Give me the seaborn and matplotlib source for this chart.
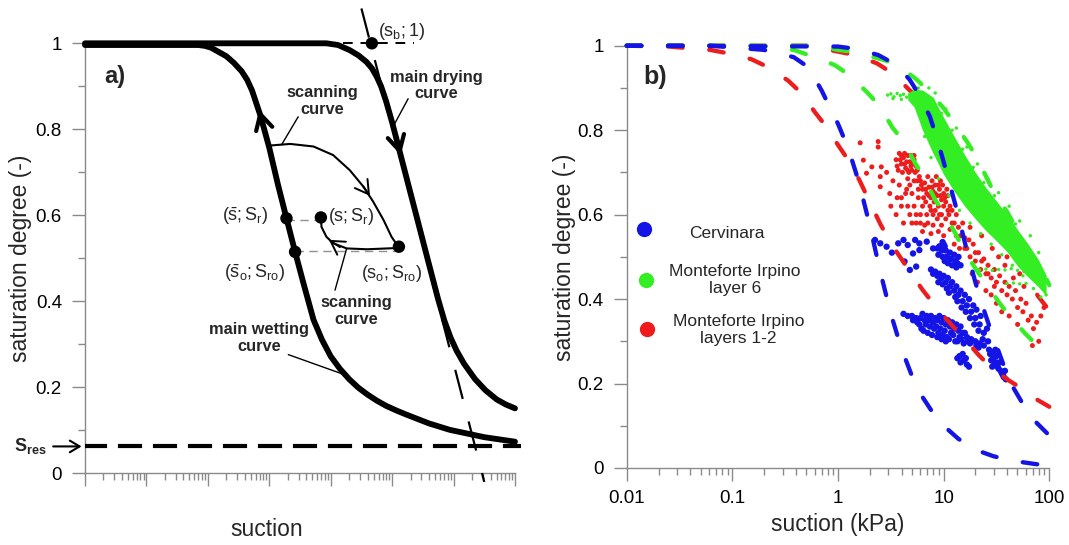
import numpy as np
import matplotlib
matplotlib.use("Agg")
import matplotlib.pyplot as plt
from matplotlib.ticker import LogLocator, NullFormatter
import seaborn as sns

sns.set_theme(style="ticks")
plt.rcParams["font.family"] = ["Liberation Sans", "DejaVu Sans"]
plt.rcParams["mathtext.fontset"] = "custom"
plt.rcParams["mathtext.rm"] = "Liberation Sans"
plt.rcParams["mathtext.it"] = "Liberation Sans"
plt.rcParams["mathtext.bf"] = "Liberation Sans:bold"

# ---------------- panel a (log10 of suction, arbitrary units) ----------------
a_dry_log = [0.0, 3.93, 4.12, 4.31, 4.45, 4.58, 4.67, 4.75, 4.82, 4.90, 5.00, 5.20, 5.40,
             5.60, 5.75, 5.85, 5.95, 6.05, 6.17, 6.35, 6.52, 6.70, 6.85, 7.00]
a_dry_S = [1.0, 1.0, 0.996, 0.984, 0.972, 0.957, 0.942, 0.922, 0.90, 0.866, 0.816, 0.706,
           0.596, 0.486, 0.404, 0.355, 0.316, 0.285, 0.255, 0.219, 0.193, 0.172, 0.16, 0.151]
a_wet_log = [0.0, 1.85, 1.95, 2.05, 2.30, 2.42, 2.55, 2.64, 2.72, 2.86, 3.00, 3.14, 3.28,
             3.42, 3.56, 3.72, 3.86, 4.00, 4.15, 4.30, 4.45, 4.60, 4.75, 4.90, 5.07, 5.24,
             5.60, 5.94, 6.50, 7.00]
a_wet_S = [0.996, 0.996, 0.994, 0.99, 0.97, 0.955, 0.935, 0.915, 0.89, 0.83, 0.757, 0.672,
           0.593, 0.515, 0.44, 0.357, 0.31, 0.272, 0.243, 0.219, 0.199, 0.183, 0.169, 0.157,
           0.146, 0.136, 0.116, 0.101, 0.084, 0.0735]
scan1_log = [2.99, 3.34, 3.72, 4.04, 4.31, 4.53, 4.69, 4.86, 4.99, 5.10]
scan1_S = [0.762, 0.766, 0.760, 0.740, 0.705, 0.667, 0.632, 0.589, 0.550, 0.527]
scan2_log = [5.10, 4.59, 4.26, 4.04, 3.93, 3.85, 3.84]
scan2_S = [0.524, 0.521, 0.523, 0.535, 0.550, 0.573, 0.595]
tangent_log = [4.50, 6.50]
tangent_S = [1.081, -0.02]
s_res = 0.0625
a_dot_log = [4.67, 3.84, 3.28, 3.42, 5.11]
a_dot_S = [1.0, 0.595, 0.593, 0.515, 0.527]

# ---------------- panel b (log10 of suction in kPa) ----------------
b_blue_dry_log = [-2.0, 0.0, 0.18, 0.38, 0.55, 0.68, 0.77, 0.87, 0.93, 1.0, 1.06, 1.12, 1.18,
                  1.24, 1.30, 1.36, 1.42, 1.50, 1.58, 1.66, 1.77, 1.88, 2.0]
b_blue_dry_S = [1.0, 0.998, 0.992, 0.978, 0.955, 0.919, 0.883, 0.832, 0.785, 0.725, 0.67, 0.615,
                0.555, 0.495, 0.44, 0.39, 0.345, 0.29, 0.235, 0.19, 0.143, 0.107, 0.077]
b_blue_wet_log = [-2.0, -1.2, -0.7, -0.42, -0.28, -0.155, -0.077, 0.0, 0.1, 0.2, 0.3, 0.4,
                  0.5, 0.6, 0.7, 0.8, 0.9, 1.0, 1.14, 1.28, 1.47, 1.63, 1.85, 2.0]
b_blue_wet_S = [1.0, 1.0, 0.99, 0.973, 0.949, 0.894, 0.854, 0.815, 0.755, 0.675, 0.575, 0.465,
                0.365, 0.283, 0.218, 0.168, 0.13, 0.10, 0.069, 0.045, 0.028, 0.018, 0.010, 0.005]
b_red_wet_log = [-2.0, -1.6, -1.21, -1.04, -0.82, -0.66, -0.47, -0.34, -0.22, -0.11, 0.0, 0.1,
                 0.2, 0.3, 0.4, 0.5, 0.6, 0.7, 0.8, 0.9, 1.0, 1.1, 1.2, 1.33, 1.44, 1.6, 1.74,
                 1.89, 2.0]
b_red_wet_S = [1.0, 0.998, 0.99, 0.982, 0.968, 0.949, 0.917, 0.886, 0.843, 0.808, 0.765, 0.728,
               0.683, 0.63, 0.578, 0.532, 0.495, 0.458, 0.422, 0.39, 0.36, 0.332, 0.305, 0.268,
               0.24, 0.21, 0.188, 0.161, 0.145]
b_red_dry_log = [-2.0, -0.3, 0.0, 0.16, 0.37, 0.52, 0.68, 0.74, 0.85, 1.0, 1.15, 1.3, 1.45,
                 1.6, 1.75, 1.89, 2.0]
b_red_dry_S = [1.0, 1.0, 0.986, 0.978, 0.958, 0.934, 0.894, 0.882, 0.85, 0.80, 0.74, 0.68,
               0.615, 0.55, 0.475, 0.408, 0.373]
b_green_dry_log = [-2.0, -0.2, 0.0, 0.16, 0.38, 0.54, 0.73, 0.85, 1.0, 1.09, 1.22, 1.31, 1.41,
                   1.48, 1.6, 1.67, 1.78, 1.86, 1.97, 2.0]
b_green_dry_S = [1.0, 1.0, 0.99, 0.985, 0.97, 0.958, 0.923, 0.895, 0.852, 0.82, 0.773, 0.737,
                 0.686, 0.65, 0.607, 0.575, 0.524, 0.497, 0.449, 0.433]
b_green_wet_log = [-2.0, -0.8, -0.42, -0.23, -0.03, 0.11, 0.27, 0.4, 0.51, 0.62, 0.73, 0.81,
                   0.92, 1.01, 1.11, 1.19, 1.31, 1.40, 1.53, 1.63, 1.77, 1.88, 1.95]
b_green_wet_S = [1.0, 1.0, 0.99, 0.974, 0.954, 0.93, 0.891, 0.856, 0.808, 0.773, 0.722, 0.69,
                 0.635, 0.60, 0.556, 0.516, 0.469, 0.437, 0.39, 0.358, 0.319, 0.291, 0.275]

# Monteforte Irpino layer 6: dense band envelope + scattered points
g_band_log = [0.66, 0.72, 0.80, 0.90, 1.00, 1.10, 1.20, 1.30, 1.40, 1.50, 1.60, 1.70, 1.80,
              1.90, 1.97]
g_band_lo = [0.872, 0.855, 0.80, 0.745, 0.695, 0.655, 0.62, 0.59, 0.562, 0.538, 0.512, 0.478,
             0.452, 0.428, 0.408]
g_band_hi = [0.888, 0.897, 0.895, 0.878, 0.83, 0.785, 0.741, 0.70, 0.664, 0.632, 0.600, 0.564,
             0.53, 0.492, 0.457]
g_pts_log = [0.47, 0.50, 0.53, 0.56, 0.59, 0.62, 0.65, 0.68, 0.72, 0.76, 0.52, 0.60,
             0.82, 0.88, 0.95, 1.05, 1.15, 1.25, 1.35, 1.45, 1.55, 1.65, 1.75,
             1.34, 1.40, 1.46, 1.52, 1.58, 1.64, 1.70, 1.60, 1.66, 1.72, 1.78,
             1.85, 1.92, 1.97, 0.98, 1.08, 1.18, 1.28, 1.38, 1.48, 1.58, 1.68,
             0.86, 0.92, 1.02, 1.12, 1.22, 1.32, 1.42, 1.52, 1.62, 1.72, 1.82, 1.9]
g_pts_S = [0.883, 0.886, 0.879, 0.887, 0.882, 0.885, 0.878, 0.884, 0.9, 0.9, 0.875, 0.873,
           0.785, 0.735, 0.685, 0.645, 0.61, 0.58, 0.555, 0.53, 0.505, 0.48, 0.455,
           0.469, 0.471, 0.468, 0.47, 0.469, 0.472, 0.468, 0.437, 0.438, 0.436, 0.437,
           0.425, 0.405, 0.41, 0.84, 0.80, 0.755, 0.712, 0.676, 0.645, 0.612, 0.578,
           0.90, 0.888, 0.85, 0.805, 0.76, 0.72, 0.685, 0.652, 0.62, 0.585, 0.55, 0.51]

# Cervinara
c_log = [0.35, 0.40, 0.46, 0.51, 0.57, 0.62, 0.66, 0.73, 0.77, 0.84, 0.90, 0.71, 0.77, 0.63,
         0.68, 0.74,
         0.94, 0.95, 0.98, 0.99, 1.02, 1.03, 1.01, 1.06, 1.07, 1.10, 1.11, 1.14, 1.13, 0.96,
         1.00, 1.04, 1.08, 1.12, 1.16, 0.99, 1.01,
         0.90, 0.94, 0.95, 0.98, 0.99, 1.02, 1.03, 1.06, 1.05, 1.10, 1.11, 1.14, 1.13, 1.18,
         1.17, 1.22, 1.21, 1.26, 1.25, 1.30, 1.29, 1.34, 1.33, 1.38, 1.37, 1.42, 1.20, 1.24,
         1.28, 1.31, 1.35, 1.41, 0.88, 0.92, 0.96, 1.00, 1.04, 1.08, 1.12, 1.16,
         0.66, 0.70, 0.71, 0.74, 0.75, 0.78, 0.77, 0.79, 0.82, 0.83, 0.81, 0.86, 0.87, 0.85,
         0.90, 0.91, 0.89, 0.94, 0.93, 0.95, 0.94, 0.98, 0.97, 0.99, 0.98, 1.02, 1.01, 1.03,
         1.02, 1.06, 1.07, 1.05, 1.10, 1.09, 1.11, 1.14, 1.15, 1.13, 1.18, 1.17, 1.19, 1.22,
         1.23, 1.26, 1.25, 1.30, 1.31, 1.34, 1.33, 1.38, 0.62, 0.88, 0.92, 0.96, 1.00, 1.04,
         1.08, 1.12, 1.16, 1.20, 0.80, 0.84,
         1.13, 1.16, 1.19, 1.22, 1.18, 1.24, 1.15, 1.21,
         1.44, 1.47, 1.50, 1.52, 1.55, 1.57, 1.49, 1.53, 1.58, 1.46,
         1.45, 1.48, 1.51, 1.54, 1.56, 1.59, 1.50, 1.47, 1.43]
c_S = [0.54, 0.532, 0.524, 0.51, 0.532, 0.54, 0.528, 0.54, 0.532, 0.536, 0.52, 0.508, 0.516,
       0.489, 0.469, 0.477,
       0.52, 0.505, 0.515, 0.50, 0.515, 0.50, 0.49, 0.51, 0.495, 0.505, 0.49, 0.50, 0.485,
       0.525, 0.53, 0.485, 0.48, 0.475, 0.48, 0.535, 0.525,
       0.46, 0.455, 0.44, 0.45, 0.435, 0.44, 0.425, 0.43, 0.415, 0.42, 0.405, 0.41, 0.395,
       0.395, 0.38, 0.385, 0.37, 0.37, 0.355, 0.355, 0.34, 0.34, 0.325, 0.32, 0.305, 0.30,
       0.41, 0.40, 0.385, 0.375, 0.36, 0.33, 0.47, 0.465, 0.46, 0.455, 0.45, 0.44, 0.43,
       0.42,
       0.36, 0.36, 0.35, 0.355, 0.345, 0.355, 0.34, 0.33, 0.35, 0.34, 0.325, 0.35, 0.335,
       0.32, 0.345, 0.33, 0.315, 0.35, 0.335, 0.32, 0.31, 0.345, 0.33, 0.315, 0.305, 0.34,
       0.325, 0.31, 0.30, 0.335, 0.32, 0.305, 0.33, 0.315, 0.30, 0.325, 0.31, 0.30, 0.32,
       0.305, 0.295, 0.31, 0.30, 0.305, 0.295, 0.30, 0.29, 0.295, 0.285, 0.29, 0.365, 0.36,
       0.355, 0.36, 0.355, 0.35, 0.345, 0.34, 0.335, 0.32, 0.365, 0.36,
       0.26, 0.25, 0.255, 0.245, 0.27, 0.24, 0.265, 0.26,
       0.27, 0.26, 0.25, 0.235, 0.225, 0.215, 0.28, 0.25, 0.23, 0.24,
       0.255, 0.245, 0.24, 0.23, 0.22, 0.21, 0.265, 0.275, 0.28]

# Monteforte Irpino layers 1-2
r_log = [0.21, 0.38, 0.38, 0.24, 0.32, 0.27, 0.41, 0.40, 0.46, 0.49, 0.40,
         0.55, 0.58, 0.60, 0.62, 0.64, 0.66, 0.68, 0.70, 0.72, 0.74, 0.57, 0.61, 0.65, 0.69,
         0.73, 0.59, 0.63, 0.67, 0.71,
         0.78, 0.80, 0.82, 0.84, 0.86, 0.88, 0.90, 0.92, 0.94, 0.96, 0.98, 1.00, 1.02, 1.04,
         1.06, 0.83, 0.87, 0.91, 0.95, 0.99, 0.85, 0.89, 0.93, 0.81, 0.97,
         0.50, 0.55, 0.60, 0.62, 0.65, 0.68, 0.70, 0.72, 0.74, 0.76, 0.78, 0.80, 0.58, 0.52,
         0.75, 0.66, 0.90, 0.94, 0.98, 1.02, 1.05, 1.08, 1.10, 1.12, 0.85, 0.88, 0.95, 1.00,
         1.06, 1.14, 1.16, 1.18,
         0.56, 0.60, 0.63, 0.66, 0.69, 0.72, 0.75, 0.77, 0.79, 0.83, 0.86, 0.89, 0.92, 0.95,
         0.97, 1.01, 1.03, 0.88, 0.92, 0.96, 1.00, 1.04, 0.80, 0.76, 0.72, 0.68, 0.64, 0.60,
         0.56, 0.84, 0.78, 0.70, 0.66, 0.74, 0.82, 0.90, 0.98, 1.08, 1.12, 1.20, 1.24, 1.30,
         1.36, 1.42, 1.48,
         1.10, 1.15, 1.20, 1.22, 1.25, 1.28, 1.30, 1.33, 1.35, 1.38, 1.40, 1.42, 1.45, 1.48,
         1.50, 1.53, 1.55, 1.58, 1.60, 1.62, 1.65, 1.68, 1.70, 1.73, 1.75, 1.78, 1.80, 1.83,
         1.85, 1.88, 1.84, 1.90, 1.62, 1.55, 1.50, 1.45, 1.40, 1.32, 1.27, 1.70, 1.66, 1.58,
         1.52, 1.46, 1.36, 1.25, 1.92, 1.95, 1.76, 1.72, 1.60]
r_S = [0.770, 0.773, 0.760, 0.729, 0.713, 0.698, 0.713, 0.69, 0.70, 0.65, 0.666,
       0.73, 0.745, 0.72, 0.735, 0.71, 0.74, 0.725, 0.705, 0.73, 0.715, 0.705, 0.70, 0.725,
       0.74, 0.70, 0.73, 0.745, 0.70, 0.72,
       0.68, 0.66, 0.675, 0.65, 0.665, 0.64, 0.655, 0.67, 0.645, 0.66, 0.635, 0.65, 0.63,
       0.645, 0.62, 0.63, 0.62, 0.63, 0.62, 0.67, 0.69, 0.68, 0.69, 0.64, 0.68,
       0.62, 0.60, 0.64, 0.58, 0.66, 0.60, 0.65, 0.62, 0.58, 0.64, 0.60, 0.56, 0.67, 0.68,
       0.68, 0.685, 0.60, 0.59, 0.60, 0.59, 0.60, 0.61, 0.58, 0.60, 0.58, 0.555, 0.56, 0.55,
       0.565, 0.57, 0.55, 0.58,
       0.715, 0.74, 0.72, 0.705, 0.715, 0.74, 0.705, 0.69, 0.67, 0.66, 0.645, 0.665, 0.65,
       0.67, 0.645, 0.64, 0.66, 0.61, 0.61, 0.60, 0.62, 0.61, 0.62, 0.66, 0.68, 0.67, 0.65,
       0.62, 0.64, 0.60, 0.58, 0.58, 0.62, 0.60, 0.575, 0.575, 0.575, 0.58, 0.55, 0.52, 0.54,
       0.51, 0.49, 0.46, 0.43,
       0.53, 0.52, 0.545, 0.52, 0.50, 0.53, 0.49, 0.51, 0.47, 0.495, 0.46, 0.48, 0.45, 0.47,
       0.44, 0.455, 0.42, 0.44, 0.41, 0.43, 0.40, 0.42, 0.38, 0.40, 0.37, 0.39, 0.35, 0.36,
       0.33, 0.345, 0.29, 0.30, 0.36, 0.37, 0.39, 0.41, 0.42, 0.44, 0.46, 0.34, 0.45, 0.48,
       0.50, 0.52, 0.55, 0.57, 0.36, 0.38, 0.43, 0.46, 0.50]

y_major = [0, 0.2, 0.4, 0.6, 0.8, 1.0]
y_labels = ["0", "0.2", "0.4", "0.6", "0.8", "1"]
y_minor = [0.1, 0.3, 0.5, 0.7, 0.9]
b_xticks = [0.01, 0.1, 1, 10, 100]
b_xlabels = ["0.01", "0.1", "1", "10", "100"]
legend_labels = ["Cervinara", "Monteforte Irpino\nlayer 6", "Monteforte Irpino\nlayers 1-2"]

BLUE, GREEN, RED = "#1414e6", "#33ee22", "#ee1c1c"
AXG = "#8a8a8a"


def X(v):
    return 10 ** np.asarray(v, dtype=float)


fig = plt.figure(figsize=(10.69, 5.45), dpi=100)
axA = fig.add_axes([85 / 1069, 1 - 473.3 / 545, 430 / 1069, 430 / 545])
axB = fig.add_axes([626.7 / 1069, 1 - 468 / 545, 422.6 / 1069, 422.3 / 545])

for ax in (axA, axB):
    ax.set_xscale("log")
    ax.set_ylim(0, 1)
    for sp in ("top", "right"):
        ax.spines[sp].set_visible(False)
    for sp in ("left", "bottom"):
        ax.spines[sp].set_color(AXG)
        ax.spines[sp].set_linewidth(1.0)
    ax.set_yticks(y_major, labels=y_labels)
    ax.set_yticks(y_minor, minor=True)
    ax.tick_params(which="major", direction="out", length=9.6, width=1.0, color=AXG,
                   labelsize=13.5, pad=7, labelcolor="black")
    ax.tick_params(which="minor", direction="out", length=4.8, width=1.0, color=AXG)
    ax.xaxis.set_minor_locator(LogLocator(base=10, subs=np.arange(2, 10), numticks=100))
    ax.xaxis.set_minor_formatter(NullFormatter())
    ax.set_facecolor("white")

# ---------- panel a ----------
axA.set_xlim(1, 1e7)
axA.set_xticks([10.0 ** k for k in range(8)], labels=[""] * 8)

common = dict(sort=False, estimator=None, errorbar=None, clip_on=False)
sns.lineplot(x=X(a_wet_log), y=a_wet_S, ax=axA, color="black", linewidth=4.2, zorder=4,
             solid_joinstyle="round", **common)
sns.lineplot(x=X(a_dry_log), y=a_dry_S, ax=axA, color="black", linewidth=4.2, zorder=4,
             solid_joinstyle="round", **common)
sns.lineplot(x=X(scan1_log), y=scan1_S, ax=axA, color="black", linewidth=1.5, zorder=4,
             **common)
sns.lineplot(x=X(scan2_log), y=scan2_S, ax=axA, color="black", linewidth=1.5, zorder=4,
             **common)
# tangent line through (s_b;1)
sns.lineplot(x=X(tangent_log), y=tangent_S, ax=axA, color="black", linewidth=1.6, zorder=3,
             linestyle=(0, (13.5, 10.5)), **common)
# residual saturation
sns.lineplot(x=[1.0, X(7.1)], y=[s_res, s_res], ax=axA, color="black", linewidth=3, zorder=3,
             linestyle=(0.5, (5.8, 2.6)), **common)
# helper dashed lines
sns.lineplot(x=X([4.2, 5.35]), y=[1.0, 1.0], ax=axA, color="black", linewidth=1.4, zorder=3,
             linestyle=(0, (5, 4)), **common)
sns.lineplot(x=X([a_dot_log[2], a_dot_log[1]]), y=[0.589, 0.589], ax=axA, color="#909090",
             linewidth=1.0, zorder=3, linestyle=(0, (6, 4)), **common)
sns.lineplot(x=X([a_dot_log[3], a_dot_log[4]]), y=[0.518, 0.518], ax=axA, color="#909090",
             linewidth=1.0, zorder=3, linestyle=(0, (6, 4)), **common)
sns.scatterplot(x=X(a_dot_log), y=a_dot_S, ax=axA, color="black", s=80, edgecolor="none",
                zorder=6, clip_on=False)

# arrows on curves
arrow_thick = dict(arrowstyle="->,head_length=0.55,head_width=0.3", color="black", lw=3,
                   mutation_scale=20, shrinkA=0, shrinkB=0)
arrow_thin = dict(arrowstyle="->,head_length=0.6,head_width=0.35", color="black", lw=1.4,
                  mutation_scale=16, shrinkA=0, shrinkB=0)
axA.annotate("", xy=(X(2.835), 0.845), xytext=(X(2.90), 0.81), arrowprops=arrow_thick, zorder=7)
axA.annotate("", xy=(X(5.14), 0.74), xytext=(X(5.06), 0.785), arrowprops=arrow_thick, zorder=7)
axA.annotate("", xy=(X(4.64), 0.645), xytext=(X(4.53), 0.667), arrowprops=arrow_thin, zorder=7)
axA.annotate("", xy=(X(3.97), 0.543), xytext=(X(4.15), 0.526), arrowprops=arrow_thin, zorder=7)

# leader lines
lead = dict(arrowstyle="-", color="black", lw=1.0, shrinkA=0, shrinkB=0)
axA.annotate("", xy=(X(5.03), 0.81), xytext=(X(5.26), 0.871), arrowprops=lead)
axA.annotate("", xy=(X(3.20), 0.764), xytext=(X(3.47), 0.829), arrowprops=lead)
axA.annotate("", xy=(X(4.26), 0.523), xytext=(X(4.07), 0.426), arrowprops=lead)
axA.annotate("", xy=(X(4.25), 0.228), xytext=(X(3.31), 0.276), arrowprops=lead)

bold = dict(fontsize=11.8, fontweight="bold", ha="center", va="center",
            transform=axA.transAxes, linespacing=1.15)
axA.text((436 - 85) / 430, (473.3 - 85.5) / 430, "main drying\ncurve", **bold)
axA.text((322.3 - 85) / 430, (473.3 - 101) / 430, "scanning\ncurve", **bold)
axA.text((356 - 85) / 430, (473.3 - 311) / 430, "scanning\ncurve", **bold)
axA.text((259 - 85) / 430, (473.3 - 338) / 430, "main wetting\ncurve", **bold)
axA.text((115 - 85) / 430, (473.3 - 76.7) / 430, "a)", fontsize=17, fontweight="bold",
         ha="center", va="center", transform=axA.transAxes)
reg = dict(fontsize=13, ha="center", va="center", transform=axA.transAxes)
axA.text((401.7 - 85) / 430, (473.3 - 31.7) / 430, r"$(s_b;1)$", **reg)
axA.text((245 - 85) / 430, (473.3 - 216.7) / 430, r"$(\bar{s};S_r)$", **reg)
axA.text((351.7 - 85) / 430, (473.3 - 216.7) / 430, r"$(s;S_r)$", **reg)
axA.text((255 - 85) / 430, (473.3 - 273.3) / 430, r"$(\bar{s}_o;S_{ro})$", **reg)
axA.text((391.7 - 85) / 430, (473.3 - 273.3) / 430, r"$(s_o;S_{ro})$", **reg)
axA.text((47 - 85) / 430, s_res, r"$\mathbf{S}_{\mathbf{res}}$", fontsize=13, ha="right",
         va="center", transform=axA.get_yaxis_transform())
axA.annotate("", xy=(-0.008, s_res), xytext=(-0.074, s_res), xycoords=axA.get_yaxis_transform(),
             textcoords=axA.get_yaxis_transform(),
             arrowprops=dict(arrowstyle="->,head_length=0.5,head_width=0.3", color="black",
                             lw=1.5, mutation_scale=14, shrinkA=0, shrinkB=0))

axA.set_xlabel("suction", fontsize=16.5)
axA.xaxis.set_label_coords((267 - 85) / 430, (473.3 - 529) / 430)
axA.xaxis.label.set_va("center")
axA.set_ylabel("saturation degree (-)", fontsize=16.5)
axA.yaxis.set_label_coords((21 - 85) / 430, 0.5)
axA.yaxis.label.set_va("center")

# ---------- panel b ----------
axB.set_xlim(0.01, 100)
axB.set_xticks(b_xticks, labels=b_xlabels)
axB.tick_params(axis="x", which="major", pad=6)

sns.scatterplot(x=X(r_log), y=r_S, ax=axB, color=RED, s=13, edgecolor="none", zorder=2)
sns.scatterplot(x=X(c_log), y=c_S, ax=axB, color=BLUE, s=21, edgecolor="none", zorder=2)
dash_b = (0, (3.4, 6.2))
sns.lineplot(x=X(b_red_dry_log), y=b_red_dry_S, ax=axB, color=RED, linewidth=3.1, zorder=2,
             linestyle=dash_b, dash_capstyle="round", **common)
axB.fill_between(X(g_band_log), g_band_lo, g_band_hi, color=GREEN, linewidth=0, zorder=2.5)
sns.scatterplot(x=X(g_pts_log), y=g_pts_S, ax=axB, color=GREEN, s=6, edgecolor="none",
                zorder=2.5)
for lg, ss, col in [(b_red_wet_log, b_red_wet_S, RED),
                    (b_green_dry_log, b_green_dry_S, GREEN),
                    (b_green_wet_log, b_green_wet_S, GREEN),
                    (b_blue_wet_log, b_blue_wet_S, BLUE),
                    (b_blue_dry_log, b_blue_dry_S, BLUE)]:
    sns.lineplot(x=X(lg), y=ss, ax=axB, color=col, linewidth=3.1, zorder=3,
                 linestyle=dash_b, dash_capstyle="round", **common)

axB.text(0.067, 0.927, "b)", fontsize=18, fontweight="bold", ha="center", va="center",
         transform=axB.transAxes)
leg_mark = [(0.042, 0.565), (0.046, 0.445), (0.049, 0.328)]
leg_text = [(0.237, 0.556), (0.256, 0.445), (0.264, 0.327)]
for (mx, my), (tx, ty), col, lab in zip(leg_mark, leg_text, [BLUE, GREEN, RED], legend_labels):
    axB.plot([mx], [my], marker="o", ms=11, color=col, mec="none", transform=axB.transAxes,
             clip_on=False, zorder=5)
    axB.text(tx, ty, lab, fontsize=12.5, ha="center", va="center", multialignment="center",
             transform=axB.transAxes, linespacing=1.15)

axB.set_xlabel("suction (kPa)", fontsize=16.5)
axB.xaxis.set_label_coords(0.5, (468 - 525) / 422.3)
axB.xaxis.label.set_va("center")
axB.set_ylabel("saturation degree (-)", fontsize=16.5)
axB.yaxis.set_label_coords((565 - 626.7) / 422.6, 0.5)
axB.yaxis.label.set_va("center")

fig.savefig("out.png", dpi=100)
